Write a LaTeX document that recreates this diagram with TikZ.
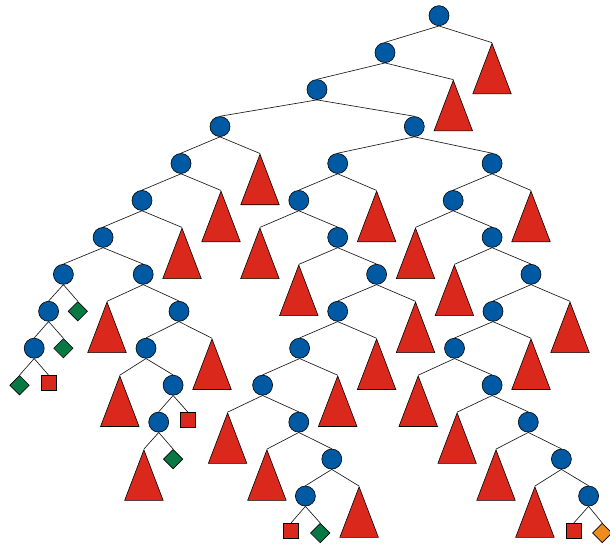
\documentclass[tikz,border=0pt]{standalone}
\usetikzlibrary{shapes.geometric}
\definecolor{nblue}{RGB}{0,89,163}
\definecolor{nred}{RGB}{218,41,28}
\definecolor{ngreen}{RGB}{8,121,66}
\definecolor{norange}{RGB}{238,140,30}
\tikzset{
  inner/.style={circle,draw=black,fill=nblue,minimum size=20pt,inner sep=0pt,line width=0.6pt},
  tri/.style={isosceles triangle,isosceles triangle stretches,shape border rotate=90,
    draw=black,fill=nred,minimum width=38.5pt,minimum height=50.5pt,inner sep=0pt,anchor=apex,line width=0.6pt},
  gdia/.style={diamond,draw=black,fill=ngreen,minimum size=19.5pt,inner sep=0pt,line width=0.6pt},
  odia/.style={diamond,draw=black,fill=norange,minimum size=19.5pt,inner sep=0pt,line width=0.6pt},
  rsq/.style={rectangle,draw=black,fill=nred,minimum size=14.5pt,inner sep=0pt,anchor=north,line width=0.6pt},
  edge/.style={draw=black!90,line width=0.65pt}
}
\begin{document}
\begin{tikzpicture}[x=1pt,y=-1pt]
\useasboundingbox (0,0) rectangle (610,545);
% level y: 15.7 + 36.95 k
% L0
\node[inner] (n0) at (439,15.7) {};
% L1
\node[inner] (n1) at (385,52.65) {};
\node[tri] (t1) at (492,42.65) {};
% L2
\node[inner] (n2) at (317,89.6) {};
\node[tri] (t2) at (453.3,79.6) {};
% L3
\node[inner] (n3a) at (220,126.55) {};
\node[inner] (n3b) at (414.3,126.55) {};
% L4
\node[inner] (n4a) at (181,163.5) {};
\node[tri] (t4a) at (260,153.5) {};
\node[inner] (n4b) at (337.7,163.5) {};
\node[inner] (n4c) at (492.1,163.5) {};
% L5
\node[inner] (n5a) at (142,200.45) {};
\node[tri] (t5a) at (221,190.45) {};
\node[inner] (n5b) at (298.8,200.45) {};
\node[tri] (t5b) at (376.6,190.45) {};
\node[inner] (n5c) at (453.2,200.45) {};
\node[tri] (t5c) at (531,190.45) {};
% L6
\node[inner] (n6a) at (103.1,237.4) {};
\node[tri] (t6a) at (182,227.4) {};
\node[tri] (t6b) at (259.9,227.4) {};
\node[inner] (n6b) at (337.7,237.4) {};
\node[tri] (t6c) at (415.5,227.4) {};
\node[inner] (n6c) at (492.1,237.4) {};
% L7
\node[inner] (n7a) at (63.4,274.35) {};
\node[inner] (n7b) at (143.2,274.35) {};
\node[tri] (t7a) at (298.8,264.35) {};
\node[inner] (n7c) at (376.6,274.35) {};
\node[tri] (t7b) at (454.4,264.35) {};
\node[inner] (n7d) at (531,274.35) {};
% L8
\node[inner] (n8a) at (48.6,311.3) {};
\node[gdia] (d8a) at (77.8,311.3) {};
\node[tri] (t8a) at (107,301.3) {};
\node[inner] (n8b) at (179,311.3) {};
\node[inner] (n8c) at (337.7,311.3) {};
\node[tri] (t8b) at (415.5,301.3) {};
\node[inner] (n8d) at (493,311.3) {};
\node[tri] (t8c) at (570,301.3) {};
% L9
\node[inner] (n9a) at (34.2,348.25) {};
\node[gdia] (d9a) at (63.4,348.25) {};
\node[inner] (n9b) at (146,348.25) {};
\node[tri] (t9a) at (212,338.25) {};
\node[inner] (n9c) at (299.6,348.25) {};
\node[tri] (t9b) at (376.6,338.25) {};
\node[inner] (n9d) at (454.5,348.25) {};
\node[tri] (t9c) at (531,338.25) {};
% L10
\node[gdia] (d10a) at (19.5,385.2) {};
\node[rsq] (s10a) at (48.6,375.2) {};
\node[tri] (t10a) at (119.8,375.2) {};
\node[inner] (n10a) at (173.1,385.2) {};
\node[inner] (n10b) at (262.6,385.2) {};
\node[tri] (t10b) at (337.7,375.2) {};
\node[tri] (t10c) at (418.2,375.2) {};
\node[inner] (n10c) at (492.1,385.2) {};
% L11
\node[inner] (n11a) at (158.7,422.15) {};
\node[rsq] (s11a) at (187.9,412.15) {};
\node[tri] (t11a) at (227.6,412.15) {};
\node[inner] (n11b) at (298.8,422.15) {};
\node[tri] (t11b) at (457.1,412.15) {};
\node[inner] (n11c) at (528.3,422.15) {};
% L12
\node[tri] (t12a) at (143.9,449.1) {};
\node[gdia] (d12a) at (173.1,459.1) {};
\node[tri] (t12b) at (266.9,449.1) {};
\node[inner] (n12a) at (331.8,459.1) {};
\node[tri] (t12c) at (496,449.1) {};
\node[inner] (n12b) at (561.4,459.1) {};
% L13
\node[inner] (n13a) at (305.4,496.05) {};
\node[tri] (t13a) at (359.1,486.05) {};
\node[tri] (t13b) at (534.9,486.05) {};
\node[inner] (n13b) at (588.6,496.05) {};
% L14
\node[rsq] (s14a) at (291,523) {};
\node[gdia] (d14a) at (320.2,533) {};
\node[rsq] (s14b) at (573.8,523) {};
\node[odia] (o14a) at (602.2,533) {};
% edges
\path[edge]
  (n0.south) -- (n1.north) (n0.south) -- (t1.apex)
  (n1.south) -- (n2.north) (n1.south) -- (t2.apex)
  (n2.south) -- (n3a.north) (n2.south) -- (n3b.north)
  (n3a.south) -- (n4a.north) (n3a.south) -- (t4a.apex)
  (n3b.south) -- (n4b.north) (n3b.south) -- (n4c.north)
  (n4a.south) -- (n5a.north) (n4a.south) -- (t5a.apex)
  (n4b.south) -- (n5b.north) (n4b.south) -- (t5b.apex)
  (n4c.south) -- (n5c.north) (n4c.south) -- (t5c.apex)
  (n5a.south) -- (n6a.north) (n5a.south) -- (t6a.apex)
  (n5b.south) -- (t6b.apex) (n5b.south) -- (n6b.north)
  (n5c.south) -- (t6c.apex) (n5c.south) -- (n6c.north)
  (n6a.south) -- (n7a.north) (n6a.south) -- (n7b.north)
  (n6b.south) -- (t7a.apex) (n6b.south) -- (n7c.north)
  (n6c.south) -- (t7b.apex) (n6c.south) -- (n7d.north)
  (n7a.south) -- (n8a.north) (n7a.south) -- (d8a.north)
  (n7b.south) -- (t8a.apex) (n7b.south) -- (n8b.north)
  (n7c.south) -- (n8c.north) (n7c.south) -- (t8b.apex)
  (n7d.south) -- (n8d.north) (n7d.south) -- (t8c.apex)
  (n8a.south) -- (n9a.north) (n8a.south) -- (d9a.north)
  (n8b.south) -- (n9b.north) (n8b.south) -- (t9a.apex)
  (n8c.south) -- (n9c.north) (n8c.south) -- (t9b.apex)
  (n8d.south) -- (n9d.north) (n8d.south) -- (t9c.apex)
  (n9a.south) -- (d10a.north) (n9a.south) -- (s10a.north)
  (n9b.south) -- (t10a.apex) (n9b.south) -- (n10a.north)
  (n9c.south) -- (n10b.north) (n9c.south) -- (t10b.apex)
  (n9d.south) -- (t10c.apex) (n9d.south) -- (n10c.north)
  (n10a.south) -- (n11a.north) (n10a.south) -- (s11a.north)
  (n10b.south) -- (t11a.apex) (n10b.south) -- (n11b.north)
  (n10c.south) -- (t11b.apex) (n10c.south) -- (n11c.north)
  (n11a.south) -- (t12a.apex) (n11a.south) -- (d12a.north)
  (n11b.south) -- (t12b.apex) (n11b.south) -- (n12a.north)
  (n11c.south) -- (t12c.apex) (n11c.south) -- (n12b.north)
  (n12a.south) -- (n13a.north) (n12a.south) -- (t13a.apex)
  (n12b.south) -- (t13b.apex) (n12b.south) -- (n13b.north)
  (n13a.south) -- (s14a.north) (n13a.south) -- (d14a.north)
  (n13b.south) -- (s14b.north) (n13b.south) -- (o14a.north);
\end{tikzpicture}
\end{document}
